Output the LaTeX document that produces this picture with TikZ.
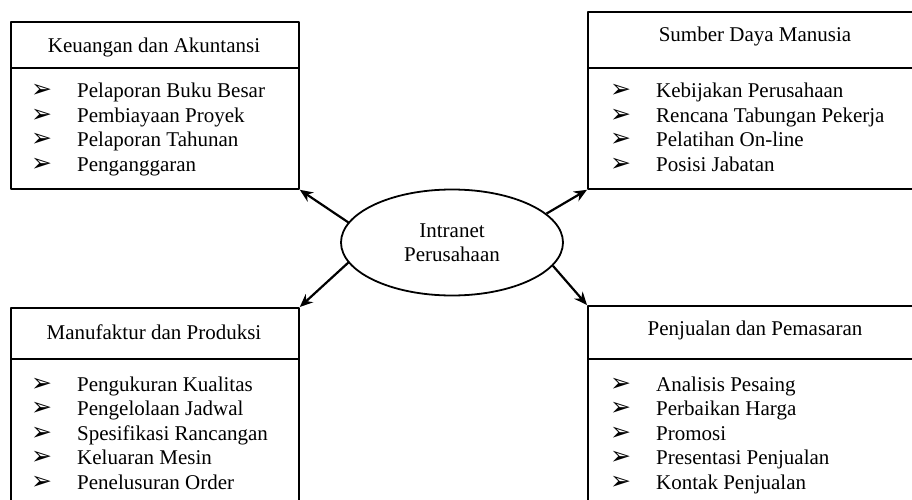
\documentclass[tikz,border=0pt]{standalone}
\usepackage{fontspec}
\setmainfont{Liberation Serif}
\newfontfamily\dingfont{DejaVu Sans}
\usetikzlibrary{shapes.geometric,arrows.meta}
\begin{document}
\begin{tikzpicture}[x=1pt, y=-1pt, line join=round, font=\fontsize{21}{24.5}\selectfont, >={Stealth[length=13pt,width=11pt]}]
	\tikzset{kotak/.style={draw, line width=1.8pt, inner sep=0pt, anchor=north west},
		judul/.style={anchor=base, inner sep=0pt},
		daftar/.style={anchor=base west, align=left, inner sep=0pt},
		panah/.style={->, line width=2.2pt}}
	\def\bul{\makebox[46pt][l]{\dingfont\fontsize{25}{25}\selectfont ➢}}
	\useasboundingbox (0,0) rectangle (912,500);
	\clip (0,0) rectangle (912,500);
	% kotak
	\node[kotak, minimum width=288pt, minimum height=167pt] (keu) at (10,21) {};
	\node[kotak, minimum width=336pt, minimum height=177pt] (sdm) at (587,11) {};
	\node[kotak, minimum width=288pt, minimum height=220pt] (man) at (10,307) {};
	\node[kotak, minimum width=336pt, minimum height=220pt] (pen) at (587,305) {};
	\draw[line width=1.8pt] (keu.west |- 0,68) -- (keu.east |- 0,68);
	\draw[line width=1.8pt] (sdm.west |- 0,68) -- (sdm.east |- 0,68);
	\draw[line width=1.8pt] (man.west |- 0,359) -- (man.east |- 0,359);
	\draw[line width=1.8pt] (pen.west |- 0,359) -- (pen.east |- 0,359);
	% judul
	\node[judul] (keuJ) at (154,52.3) {Keuangan dan Akuntansi};
	\node[judul] (sdmJ) at (755,41.7) {Sumber Daya Manusia};
	\node[judul] (manJ) at (154,339.3) {Manufaktur dan Produksi};
	\node[judul] (penJ) at (755,335.7) {Penjualan dan Pemasaran};
	% isi (base = baris terakhir)
	\node[daftar] (keuL) at (31,171.3) {\bul Pelaporan Buku Besar\\ \bul Pembiayaan Proyek\\ \bul Pelaporan Tahunan\\ \bul Penganggaran};
	\node[daftar] (sdmL) at (610,171.3) {\bul Kebijakan Perusahaan\\ \bul Rencana Tabungan Pekerja\\ \bul Pelatihan On-line\\ \bul Posisi Jabatan};
	\node[daftar] (manL) at (31,489) {\bul Pengukuran Kualitas\\ \bul Pengelolaan Jadwal\\ \bul Spesifikasi Rancangan\\ \bul Keluaran Mesin\\ \bul Penelusuran Order};
	\node[daftar] (penL) at (610,489) {\bul Analisis Pesaing\\ \bul Perbaikan Harga\\ \bul Promosi\\ \bul Presentasi Penjualan\\ \bul Kontak Penjualan};
	% pusat
	\node[ellipse, draw, line width=1.8pt, minimum width=222pt, minimum height=106pt, inner sep=0pt, align=center] (intra) at (452,242.5) {Intranet\\Perusahaan};
	\draw[panah] (intra.169) -- (keu.south east);
	\draw[panah] (intra.17) -- (sdm.south west);
	\draw[panah] (intra.191) -- (man.north east);
	\draw[panah] (intra.-13) -- (pen.north west);
\end{tikzpicture}
\end{document}
